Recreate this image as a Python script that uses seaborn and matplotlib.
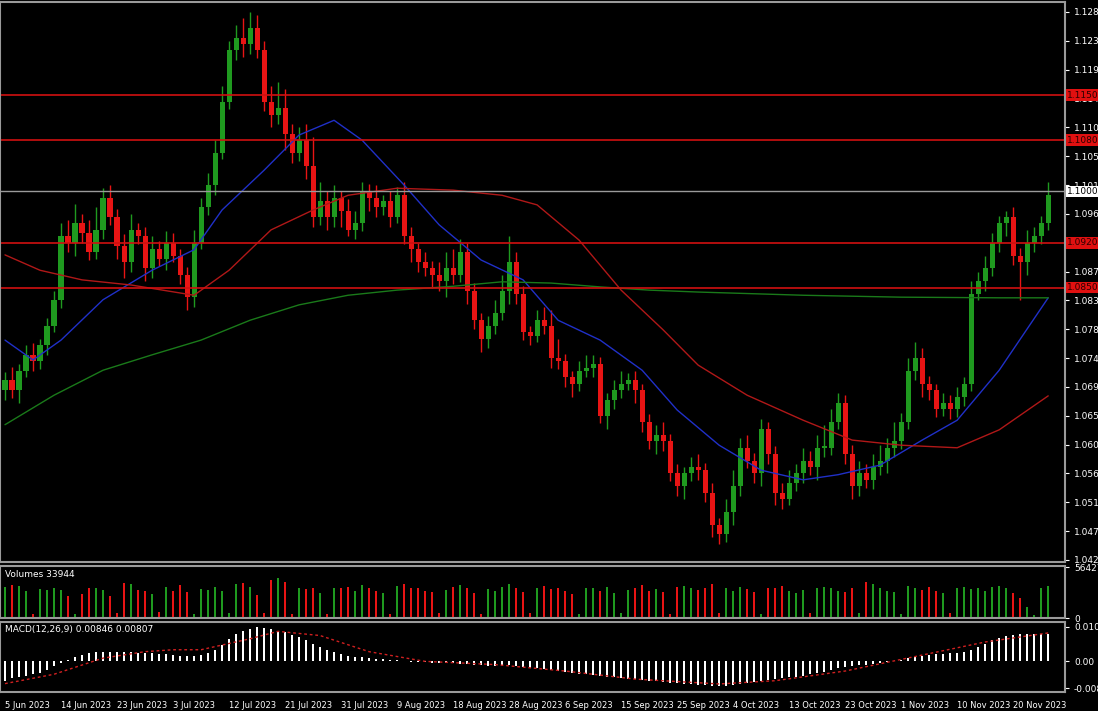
import numpy as np
import pandas as pd
import matplotlib
matplotlib.use("Agg")
import matplotlib.pyplot as plt
import seaborn as sns

# ---- data (prices in 1e-4 units) ----
closes = [10706, 10690, 10720, 10745, 10735, 10760, 10790, 10830, 10930, 10920,
          10950, 10935, 10905, 10940, 10990, 10960, 10915, 10890, 10940, 10930,
          10880, 10910, 10895, 10920, 10900, 10870, 10835, 10920, 10975, 11010,
          11060, 11140, 11220, 11240, 11230, 11255, 11220, 11140, 11120, 11130,
          11090, 11060, 11080, 11040, 10960, 10985, 10960, 10990, 10970, 10940,
          10950, 11000, 10990, 10975, 10985, 10960, 10995, 10930, 10910, 10890,
          10880, 10870, 10860, 10880, 10870, 10905, 10845, 10800, 10770, 10790,
          10810, 10845, 10890, 10840, 10780, 10775, 10800, 10790, 10740, 10735,
          10710, 10700, 10720, 10725, 10730, 10650, 10675, 10690, 10700, 10705,
          10690, 10640, 10610, 10620, 10610, 10560, 10540, 10560, 10570, 10565,
          10530, 10480, 10465, 10500, 10540, 10600, 10580, 10560, 10630, 10590,
          10530, 10520, 10545, 10560, 10580, 10570, 10600, 10600, 10640, 10670,
          10590, 10540, 10560, 10550, 10570, 10580, 10600, 10610, 10640, 10720,
          10740, 10700, 10690, 10660, 10670, 10660, 10680, 10700, 10840, 10860,
          10880, 10920, 10950, 10960, 10900, 10890, 10920, 10930, 10950, 10995]
first_open = 10690
upper_wick = [12, 20, 10, 15, 18, 10, 12, 15, 20, 25, 30, 15, 20, 35, 15, 20, 12, 18, 25, 10,
              15, 20, 12, 18, 15, 10, 12, 20, 15, 18, 20, 25, 15, 20, 30, 25, 20, 15, 25, 40,
              30, 15, 20, 25, 45, 30, 15, 20, 10, 18, 20, 15, 12, 20, 10, 15, 12, 20, 15, 10,
              15, 12, 20, 25, 30, 20, 15, 12, 10, 15, 20, 25, 40, 15, 12, 10, 15, 20, 25, 30,
              12, 10, 15, 20, 15, 12, 10, 15, 20, 12, 15, 10, 12, 15, 20, 12, 15, 10, 15, 20,
              12, 15, 10, 20, 25, 15, 20, 12, 15, 10, 12, 15, 20, 15, 20, 15, 20, 35, 20, 15,
              12, 15, 20, 15, 20, 25, 15, 30, 15, 20, 25, 15, 12, 10, 15, 12, 15, 10, 20, 15,
              20, 15, 12, 10, 15, 12, 20, 15, 12, 20]
lower_wick = [15, 12, 20, 10, 15, 12, 15, 10, 12, 15, 20, 15, 12, 10, 15, 12, 20, 25, 15, 12,
              20, 15, 12, 18, 10, 15, 20, 15, 10, 12, 15, 10, 12, 15, 20, 15, 12, 15, 20, 15,
              25, 15, 12, 20, 15, 12, 20, 15, 25, 10, 15, 12, 20, 15, 12, 15, 10, 12, 20, 15,
              12, 20, 15, 25, 15, 12, 20, 15, 20, 15, 12, 10, 20, 15, 12, 15, 10, 12, 15, 12,
              15, 20, 12, 10, 15, 12, 20, 15, 12, 10, 20, 15, 12, 20, 15, 12, 15, 20, 12, 15,
              15, 20, 15, 12, 20, 15, 12, 15, 20, 15, 20, 15, 10, 12, 15, 12, 20, 15, 12, 10,
              15, 20, 15, 12, 15, 12, 20, 15, 12, 10, 15, 20, 15, 12, 10, 15, 12, 15, 12, 10,
              15, 12, 15, 20, 15, 60, 20, 15, 12, 10]
volumes = [35, 37, 36, 30, 5, 32, 31, 33, 31, 25, 4, 27, 33, 33, 31, 25, 6, 39, 38, 31,
           30, 27, 7, 35, 30, 37, 29, 5, 32, 31, 35, 30, 6, 38, 39, 35, 26, 6, 42, 45,
           40, 4, 33, 32, 33, 28, 5, 33, 34, 35, 30, 37, 33, 30, 28, 5, 36, 38, 33, 34,
           30, 29, 6, 31, 35, 37, 33, 28, 5, 32, 30, 35, 38, 33, 29, 6, 33, 36, 32, 34,
           30, 27, 5, 34, 33, 30, 35, 28, 6, 31, 33, 37, 30, 32, 29, 5, 35, 36, 33, 31,
           34, 38, 6, 33, 30, 35, 32, 29, 5, 34, 33, 36, 30, 28, 31, 6, 34, 35, 33, 30,
           29, 33, 6, 40, 38, 33, 30, 29, 5, 36, 33, 31, 35, 30, 28, 6, 33, 35, 32, 34,
           30, 35, 36, 33, 28, 22, 12, 3, 33, 36]
macd_hist = [-60, -52, -50, -45, -40, -35, -28, -15, -5, 5,
             12, 20, 25, 28, 30, 30, 30, 29, 28, 27,
             26, 25, 24, 22, 20, 18, 17, 18, 20, 25,
             35, 50, 70, 85, 95, 100, 105, 104, 100, 95,
             90, 82, 75, 65, 55, 45, 35, 28, 22, 18,
             15, 12, 10, 8, 6, 5, 3, 1, -1, -2,
             -3, -4, -5, -6, -6, -7, -8, -10, -12, -13,
             -13, -12, -12, -14, -17, -20, -22, -24, -27, -30,
             -33, -36, -38, -40, -42, -45, -48, -50, -52, -54,
             -56, -58, -60, -62, -64, -66, -68, -70, -71, -72,
             -73, -75, -76, -75, -73, -70, -67, -64, -60, -57,
             -55, -53, -50, -47, -44, -40, -36, -32, -27, -22,
             -18, -15, -12, -10, -8, -5, -2, 1, 5, 10,
             15, 18, 20, 22, 24, 25, 26, 28, 35, 45,
             55, 65, 72, 78, 82, 84, 85, 86, 85, 85]
# moving averages: (bar index, price)
ma_blue_bar = [0, 4, 8, 14, 21, 27, 31, 37, 42, 47, 51, 57, 62, 68, 74, 79, 85, 91, 96, 102, 108, 114, 119, 125, 131, 136, 142, 149]
ma_blue_val = [1.0768, 1.0737, 1.0768, 1.0831, 1.0877, 1.0909, 1.0971, 1.1033, 1.1088, 1.1111, 1.1080, 1.1010, 1.0948, 1.0893,
               1.0862, 1.0799, 1.0768, 1.0721, 1.0659, 1.0604, 1.0565, 1.0550, 1.0558, 1.0573, 1.0612, 1.0643, 1.0721, 1.0834]
ma_red_bar = [0, 5, 11, 18, 27, 32, 38, 44, 49, 56, 64, 71, 76, 82, 88, 94, 99, 106, 114, 121, 128, 136, 142, 149]
ma_red_val = [1.0901, 1.0877, 1.0862, 1.0854, 1.0838, 1.0877, 1.0940, 1.0971, 1.0994, 1.1005, 1.1002, 1.0994,
              1.0979, 1.0924, 1.0846, 1.0784, 1.0729, 1.0682, 1.0643, 1.0612, 1.0604, 1.0600, 1.0628, 1.0681]
ma_green_bar = [0, 7, 14, 21, 28, 35, 42, 49, 56, 64, 71, 78, 85, 92, 99, 114, 128, 142, 149]
ma_green_val = [1.0636, 1.0682, 1.0721, 1.0745, 1.0768, 1.0799, 1.0823, 1.0838, 1.0846, 1.0852, 1.0859, 1.0857,
                1.0851, 1.0846, 1.0843, 1.0838, 1.0835, 1.0834, 1.0834]
signal_bar = [0, 7, 14, 20, 24, 28, 35, 39, 45, 52, 60, 70, 80, 90, 102, 110, 120, 130, 140, 149]
signal_val = [-0.0069, -0.0040, 0.0010, 0.0030, 0.0036, 0.0036, 0.0070, 0.0093, 0.0080, 0.0030, 0.0000, -0.0010,
              -0.0030, -0.0055, -0.0070, -0.0060, -0.0030, 0.0015, 0.0060, 0.0088]
hlines = [1.1150, 1.1080, 1.0920, 1.0850]
date_labels = ["5 Jun 2023", "14 Jun 2023", "23 Jun 2023", "3 Jul 2023", "12 Jul 2023", "21 Jul 2023",
               "31 Jul 2023", "9 Aug 2023", "18 Aug 2023", "28 Aug 2023", "6 Sep 2023", "15 Sep 2023",
               "25 Sep 2023", "4 Oct 2023", "13 Oct 2023", "23 Oct 2023", "1 Nov 2023", "10 Nov 2023", "20 Nov 2023"]

# ---- build table ----
df = pd.DataFrame({"close": np.array(closes) / 1e4})
df["open"] = np.r_[first_open / 1e4, df["close"].values[:-1]]
df["high"] = df[["open", "close"]].max(axis=1) + np.array(upper_wick) / 1e4
df["low"] = df[["open", "close"]].min(axis=1) - np.array(lower_wick) / 1e4
df["bar"] = np.arange(len(df))
df["vol"] = np.array(volumes) * 1000
df["hist"] = np.array(macd_hist) / 1e4
up = df["close"] >= df["open"]
GREEN, RED, GREY = "#1f9a1f", "#e81414", "#9a9a9a"
colors = np.where(up, GREEN, RED)

sns.set_style("dark", {"axes.facecolor": "black", "figure.facecolor": "black"})
plt.rcParams["font.family"] = ["DejaVu Sans"]

fig = plt.figure(figsize=(10.98, 7.11), dpi=100)
W = 1065 / 1098
ax = fig.add_axes([0, 0.2096, W, 0.7876])
axv = fig.add_axes([0, 0.1308, W, 0.0731])
axm = fig.add_axes([0, 0.0267, W, 0.0985])
xlim = (-0.714, 151.4)

for a in (ax, axv, axm):
    a.set_facecolor("black")
    a.set_xlim(*xlim)
    a.grid(False)
    for s in a.spines.values():
        s.set_color(GREY)
        s.set_linewidth(1.5)
    a.yaxis.tick_right()
    a.tick_params(colors="white", labelsize=6.5, length=3, direction="out")
    a.set_xlabel("")
    a.set_ylabel("")

# candles
ax.vlines(df["bar"], df["low"], df["high"], colors=colors, linewidth=1)
ax.bar(df["bar"], (df["close"] - df["open"]).abs().clip(lower=0.0002),
       bottom=df[["open", "close"]].min(axis=1), width=0.72, color=colors, linewidth=0)
sns.lineplot(x=ma_blue_bar, y=ma_blue_val, ax=ax, color="#2030c8", linewidth=1)
sns.lineplot(x=ma_red_bar, y=ma_red_val, ax=ax, color="#b01818", linewidth=1)
sns.lineplot(x=ma_green_bar, y=ma_green_val, ax=ax, color="#1a7a1a", linewidth=1)
for h in hlines:
    ax.axhline(h, color="#d01010", linewidth=1.2)
    ax.text(1.002, h, f"{h:.4f}", transform=ax.get_yaxis_transform(), fontsize=6.5, color="#2a0000",
            va="center", ha="left", bbox=dict(facecolor="#e01010", edgecolor="none", pad=1))
ax.axhline(1.1000, color=GREY, linewidth=1)
ax.text(1.002, 1.1000, "1.1000", transform=ax.get_yaxis_transform(), fontsize=6.5, color="black",
        va="center", ha="left", bbox=dict(facecolor="white", edgecolor="none", pad=1))
ax.set_ylim(1.04218, 1.12956)
ticks = np.round(np.arange(1.0425, 1.1281, 0.0045), 4)
ax.set_yticks(ticks)
ax.set_yticklabels([f"{t:.4f}" for t in ticks])
ax.set_xticks([])

# volumes
axv.bar(df["bar"], df["vol"], width=0.25, color=colors, linewidth=0)
axv.set_ylim(0, 58000)
axv.set_yticks([0, 56427])
axv.set_yticklabels(["0", "56427"])
axv.set_xticks([])
axv.text(0.005, 0.92, "Volumes 33944", transform=axv.transAxes, fontsize=6.5, color="white", va="top")

# MACD
axm.bar(df["bar"], df["hist"], width=0.3, color="white", linewidth=0)
sns.lineplot(x=signal_bar, y=signal_val, ax=axm, color="#d02020", linewidth=1, linestyle=(0, (2, 2)))
axm.set_ylim(-0.0095, 0.0122)
axm.set_yticks([-0.0084, 0.0, 0.0108])
axm.set_yticklabels(["-0.0084", "0.00", "0.0108"])
axm.text(0.005, 0.95, "MACD(12,26,9) 0.00846 0.00807", transform=axm.transAxes, fontsize=6.5, color="white", va="top")
tick_pos = np.arange(0, 8 * len(date_labels), 8)
axm.set_xticks(tick_pos)
axm.set_xticklabels(date_labels, ha="left", fontsize=6, color="white")
axm.set_xlim(*xlim)

fig.savefig("out.png", dpi=100, facecolor="black")
